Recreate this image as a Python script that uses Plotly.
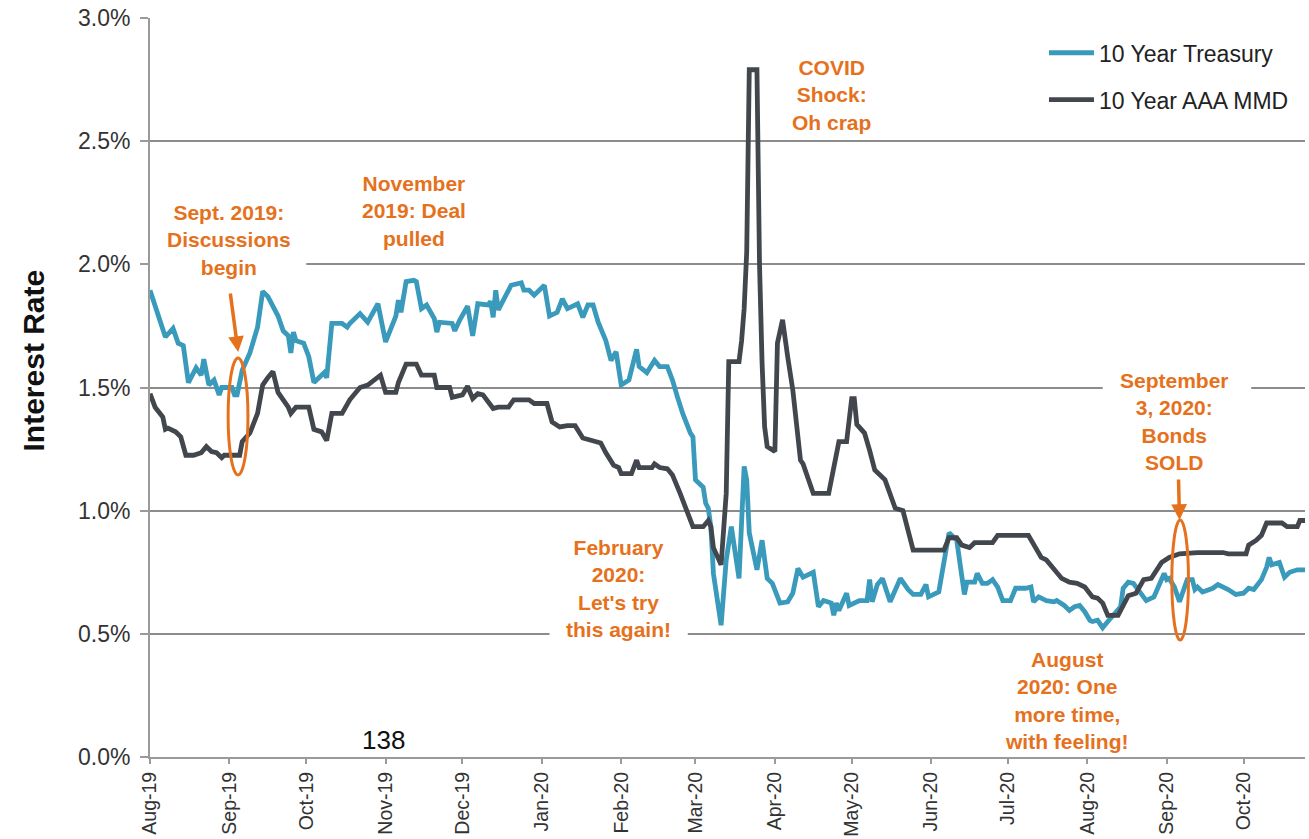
import plotly.graph_objects as go

# 10 Year Treasury yield (%)
treasury_dates = [
    "2019-08-01", "2019-08-04", "2019-08-07", "2019-08-10", "2019-08-12", "2019-08-14",
    "2019-08-16", "2019-08-19", "2019-08-21", "2019-08-22", "2019-08-24", "2019-08-26",
    "2019-08-28", "2019-08-29", "2019-09-02", "2019-09-03", "2019-09-04", "2019-09-06",
    "2019-09-09", "2019-09-12", "2019-09-14", "2019-09-16", "2019-09-18", "2019-09-20",
    "2019-09-22", "2019-09-24", "2019-09-25", "2019-09-26", "2019-09-27", "2019-09-30",
    "2019-10-02", "2019-10-04", "2019-10-08", "2019-10-09", "2019-10-11", "2019-10-15",
    "2019-10-17", "2019-10-18", "2019-10-22", "2019-10-25", "2019-10-29", "2019-11-01",
    "2019-11-05", "2019-11-06", "2019-11-07", "2019-11-09", "2019-11-12", "2019-11-13",
    "2019-11-15", "2019-11-17", "2019-11-20", "2019-11-21", "2019-11-22", "2019-11-27",
    "2019-11-28", "2019-11-30", "2019-12-03", "2019-12-05", "2019-12-07", "2019-12-11",
    "2019-12-12", "2019-12-13", "2019-12-14", "2019-12-15", "2019-12-17", "2019-12-20",
    "2019-12-24", "2019-12-25", "2019-12-27", "2019-12-29", "2020-01-02", "2020-01-04",
    "2020-01-07", "2020-01-09", "2020-01-11", "2020-01-15", "2020-01-17", "2020-01-19",
    "2020-01-21", "2020-01-23", "2020-01-26", "2020-01-28", "2020-01-30", "2020-02-01",
    "2020-02-04", "2020-02-07", "2020-02-08", "2020-02-11", "2020-02-14", "2020-02-16",
    "2020-02-19", "2020-02-21", "2020-02-23", "2020-02-25", "2020-02-28", "2020-02-29",
    "2020-03-01", "2020-03-04", "2020-03-05", "2020-03-06", "2020-03-07", "2020-03-08",
    "2020-03-11", "2020-03-13", "2020-03-15", "2020-03-17", "2020-03-18", "2020-03-20",
    "2020-03-21", "2020-03-22", "2020-03-25", "2020-03-27", "2020-03-29", "2020-03-31",
    "2020-04-03", "2020-04-06", "2020-04-08", "2020-04-10", "2020-04-12", "2020-04-16",
    "2020-04-18", "2020-04-20", "2020-04-23", "2020-04-24", "2020-04-25", "2020-04-26",
    "2020-04-29", "2020-04-30", "2020-05-04", "2020-05-07", "2020-05-08", "2020-05-09",
    "2020-05-11", "2020-05-13", "2020-05-16", "2020-05-20", "2020-05-23", "2020-05-25",
    "2020-05-28", "2020-05-30", "2020-05-31", "2020-06-04", "2020-06-06", "2020-06-08",
    "2020-06-11", "2020-06-14", "2020-06-15", "2020-06-18", "2020-06-19", "2020-06-21",
    "2020-06-23", "2020-06-25", "2020-06-27", "2020-06-29", "2020-07-02", "2020-07-04",
    "2020-07-08", "2020-07-10", "2020-07-11", "2020-07-13", "2020-07-16", "2020-07-19",
    "2020-07-20", "2020-07-23", "2020-07-25", "2020-07-27", "2020-07-29", "2020-07-31",
    "2020-08-02", "2020-08-03", "2020-08-05", "2020-08-07", "2020-08-09", "2020-08-11",
    "2020-08-14", "2020-08-15", "2020-08-17", "2020-08-19", "2020-08-22", "2020-08-24",
    "2020-08-27", "2020-08-29", "2020-08-31", "2020-09-01", "2020-09-02", "2020-09-04",
    "2020-09-06", "2020-09-08", "2020-09-09", "2020-09-11", "2020-09-12", "2020-09-13",
    "2020-09-15", "2020-09-19", "2020-09-21", "2020-09-25", "2020-09-28", "2020-10-01",
    "2020-10-03", "2020-10-05", "2020-10-08", "2020-10-10", "2020-10-11", "2020-10-12",
    "2020-10-14", "2020-10-15", "2020-10-17", "2020-10-19", "2020-10-22", "2020-10-25",
]
treasury_values = [
    1.895, 1.80, 1.705, 1.74, 1.68, 1.67,
    1.52, 1.58, 1.55, 1.615, 1.51, 1.53,
    1.47, 1.50, 1.50, 1.47, 1.47, 1.57,
    1.64, 1.745, 1.89, 1.87, 1.83, 1.79,
    1.73, 1.71, 1.64, 1.725, 1.69, 1.68,
    1.625, 1.52, 1.56, 1.54, 1.76, 1.76,
    1.745, 1.76, 1.80, 1.765, 1.84, 1.685,
    1.79, 1.855, 1.805, 1.93, 1.935, 1.93,
    1.82, 1.835, 1.78, 1.725, 1.765, 1.76,
    1.73, 1.775, 1.83, 1.71, 1.84, 1.835,
    1.85, 1.785, 1.895, 1.815, 1.855, 1.915,
    1.925, 1.895, 1.895, 1.875, 1.915, 1.79,
    1.805, 1.86, 1.82, 1.84, 1.785, 1.835,
    1.835, 1.765, 1.69, 1.61, 1.645, 1.51,
    1.53, 1.655, 1.585, 1.56, 1.61, 1.585,
    1.585, 1.53, 1.46, 1.395, 1.315, 1.30,
    1.125, 1.095, 1.03, 1.01, 0.935, 0.745,
    0.535, 0.80, 0.935, 0.80, 0.725, 1.18,
    1.125, 0.91, 0.76, 0.88, 0.725, 0.705,
    0.625, 0.63, 0.665, 0.765, 0.73, 0.75,
    0.61, 0.635, 0.625, 0.575, 0.625, 0.595,
    0.665, 0.615, 0.635, 0.635, 0.72, 0.63,
    0.70, 0.725, 0.63, 0.725, 0.68, 0.66,
    0.66, 0.70, 0.65, 0.67, 0.80, 0.91,
    0.88, 0.66, 0.71, 0.71, 0.745, 0.705,
    0.705, 0.72, 0.69, 0.635, 0.635, 0.685,
    0.685, 0.69, 0.63, 0.65, 0.635, 0.63,
    0.635, 0.615, 0.595, 0.61, 0.615, 0.59,
    0.555, 0.55, 0.555, 0.525, 0.55, 0.575,
    0.61, 0.685, 0.71, 0.705, 0.665, 0.635,
    0.65, 0.70, 0.745, 0.72, 0.725, 0.69,
    0.63, 0.69, 0.72, 0.72, 0.68, 0.69,
    0.67, 0.685, 0.70, 0.68, 0.66, 0.665,
    0.685, 0.68, 0.72, 0.77, 0.81, 0.78,
    0.79, 0.79, 0.73, 0.75, 0.76, 0.76,
]

# 10 Year AAA MMD yield (%)
mmd_dates = [
    "2019-08-01", "2019-08-03", "2019-08-06", "2019-08-07", "2019-08-08", "2019-08-11",
    "2019-08-13", "2019-08-15", "2019-08-18", "2019-08-21", "2019-08-23", "2019-08-25",
    "2019-08-27", "2019-08-29", "2019-08-30", "2019-09-05", "2019-09-06", "2019-09-09",
    "2019-09-12", "2019-09-14", "2019-09-16", "2019-09-18", "2019-09-20", "2019-09-22",
    "2019-09-24", "2019-09-25", "2019-09-27", "2019-10-02", "2019-10-04", "2019-10-07",
    "2019-10-09", "2019-10-11", "2019-10-15", "2019-10-18", "2019-10-22", "2019-10-25",
    "2019-10-30", "2019-11-01", "2019-11-05", "2019-11-06", "2019-11-09", "2019-11-13",
    "2019-11-15", "2019-11-20", "2019-11-21", "2019-11-26", "2019-11-27", "2019-12-01",
    "2019-12-03", "2019-12-05", "2019-12-07", "2019-12-09", "2019-12-13", "2019-12-15",
    "2019-12-19", "2019-12-21", "2019-12-27", "2019-12-29", "2020-01-03", "2020-01-05",
    "2020-01-08", "2020-01-11", "2020-01-14", "2020-01-17", "2020-01-21", "2020-01-24",
    "2020-01-26", "2020-01-29", "2020-01-31", "2020-02-01", "2020-02-05", "2020-02-07",
    "2020-02-08", "2020-02-13", "2020-02-14", "2020-02-16", "2020-02-19", "2020-02-21",
    "2020-02-24", "2020-02-27", "2020-02-29", "2020-03-04", "2020-03-06", "2020-03-07",
    "2020-03-08", "2020-03-11", "2020-03-13", "2020-03-14", "2020-03-18", "2020-03-19",
    "2020-03-20", "2020-03-21", "2020-03-22", "2020-03-25", "2020-03-26", "2020-03-27",
    "2020-03-28", "2020-03-29", "2020-04-01", "2020-04-02", "2020-04-04", "2020-04-06",
    "2020-04-08", "2020-04-11", "2020-04-12", "2020-04-16", "2020-04-22", "2020-04-26",
    "2020-04-29", "2020-05-01", "2020-05-02", "2020-05-03", "2020-05-06", "2020-05-08",
    "2020-05-10", "2020-05-14", "2020-05-18", "2020-05-21", "2020-05-25", "2020-06-06",
    "2020-06-08", "2020-06-11", "2020-06-13", "2020-06-16", "2020-06-18", "2020-06-25",
    "2020-06-27", "2020-07-09", "2020-07-12", "2020-07-14", "2020-07-16", "2020-07-20",
    "2020-07-22", "2020-07-25", "2020-07-28", "2020-07-31", "2020-08-03", "2020-08-05",
    "2020-08-07", "2020-08-09", "2020-08-13", "2020-08-17", "2020-08-20", "2020-08-23",
    "2020-08-26", "2020-08-30", "2020-09-02", "2020-09-06", "2020-09-13", "2020-09-23",
    "2020-09-25", "2020-10-02", "2020-10-03", "2020-10-06", "2020-10-08", "2020-10-10",
    "2020-10-16", "2020-10-18", "2020-10-22", "2020-10-23", "2020-10-25",
]
mmd_values = [
    1.475, 1.42, 1.38, 1.33, 1.335, 1.32,
    1.30, 1.225, 1.225, 1.235, 1.26, 1.24,
    1.235, 1.215, 1.225, 1.225, 1.28, 1.315,
    1.395, 1.51, 1.54, 1.565, 1.48, 1.45,
    1.42, 1.395, 1.42, 1.42, 1.33, 1.32,
    1.285, 1.395, 1.395, 1.45, 1.50, 1.51,
    1.55, 1.48, 1.48, 1.52, 1.595, 1.595,
    1.55, 1.55, 1.50, 1.50, 1.46, 1.47,
    1.505, 1.455, 1.475, 1.47, 1.415, 1.42,
    1.42, 1.45, 1.45, 1.435, 1.435, 1.36,
    1.34, 1.345, 1.345, 1.295, 1.285, 1.275,
    1.235, 1.185, 1.175, 1.15, 1.15, 1.205,
    1.175, 1.175, 1.19, 1.175, 1.17, 1.145,
    1.07, 0.995, 0.935, 0.935, 0.96, 0.935,
    0.85, 0.78, 1.07, 1.605, 1.605, 1.69,
    1.82, 2.05, 2.79, 2.79, 2.0, 1.6,
    1.34, 1.26, 1.24, 1.68, 1.775, 1.625,
    1.49, 1.205, 1.19, 1.07, 1.07, 1.28,
    1.28, 1.455, 1.455, 1.35, 1.315, 1.245,
    1.165, 1.125, 1.01, 1.00, 0.84, 0.84,
    0.89, 0.89, 0.86, 0.85, 0.87, 0.87,
    0.90, 0.90, 0.84, 0.81, 0.80, 0.745,
    0.725, 0.71, 0.705, 0.69, 0.65, 0.645,
    0.625, 0.575, 0.575, 0.655, 0.665, 0.72,
    0.725, 0.79, 0.81, 0.825, 0.83, 0.83,
    0.825, 0.825, 0.86, 0.88, 0.90, 0.95,
    0.95, 0.935, 0.935, 0.96, 0.96,
]

series_names = ["10 Year Treasury", "10 Year AAA MMD"]
series_colors = ["#3a9abb", "#42474e"]

ORANGE = "#e6711c"
FONT = "Liberation Sans, Arial, sans-serif"

fig = go.Figure()
fig.add_trace(go.Scatter(
    x=treasury_dates, y=treasury_values, mode="lines", name=series_names[0],
    line=dict(color=series_colors[0], width=4.8), legendgroup="t",
))
fig.add_trace(go.Scatter(
    x=mmd_dates, y=mmd_values, mode="lines", name=series_names[1],
    line=dict(color=series_colors[1], width=4.8), legendgroup="m",
))

# White patches that break the gridlines behind the callout texts
gaps = [
    ("2019-08-01", "2019-10-01", 2.0),
    ("2020-01-04", "2020-02-27", 0.5),
    ("2020-08-07", "2020-10-04", 1.5),
]
shapes = []
for x0, x1, yv in gaps:
    shapes.append(dict(type="rect", xref="x", yref="y", x0=x0, x1=x1,
                       y0=yv - 0.03, y1=yv + 0.03, layer="between",
                       fillcolor="white", line=dict(width=0)))

# Ellipses around the two key dates
shapes.append(dict(type="circle", xref="x", yref="y",
                   x0="2019-08-31 12:00", x1="2019-09-08 06:00", y0=1.145, y1=1.62,
                   line=dict(color=ORANGE, width=3)))
shapes.append(dict(type="circle", xref="x", yref="y",
                   x0="2020-09-03", x1="2020-09-09 12:00", y0=0.475, y1=0.962,
                   line=dict(color=ORANGE, width=3)))

callouts = [
    ("2019-09-01", 2.10, "Sept. 2019:<br>Discussions<br>begin"),
    ("2019-11-12", 2.216, "November<br>2019: Deal<br>pulled"),
    ("2020-04-23", 2.687, "COVID<br>Shock:<br>Oh crap"),
    ("2020-01-31", 0.686, "February<br>2020:<br>Let's try<br>this again!"),
    ("2020-09-04", 1.364, "September<br>3, 2020:<br>Bonds<br>SOLD"),
    ("2020-07-24", 0.231, "August<br>2020: One<br>more time,<br>with feeling!"),
]
annotations = []
for xd, yv, txt in callouts:
    annotations.append(dict(
        x=xd, y=yv, xref="x", yref="y", text=txt, showarrow=False,
        xanchor="center", yanchor="middle", align="center",
        font=dict(family=FONT, size=21, color=ORANGE, weight="bold"),
    ))

# Arrows pointing at the ellipses
annotations.append(dict(
    x="2019-09-04 10:00", y=1.644, xref="x", yref="y", text="", showarrow=True,
    ax=-8, ay=-60, arrowhead=2, arrowsize=0.9, arrowwidth=3.5, arrowcolor=ORANGE,
))
annotations.append(dict(
    x="2020-09-06", y=0.962, xref="x", yref="y", text="", showarrow=True,
    ax=-1, ay=-42, arrowhead=2, arrowsize=0.9, arrowwidth=3.5, arrowcolor=ORANGE,
))

annotations.append(dict(
    x="2019-10-31", y=0.069, xref="x", yref="y", text="138", showarrow=False,
    xanchor="center", yanchor="middle", font=dict(family=FONT, size=26, color="#111"),
))

annotations.append(dict(
    x=-0.101, y=0.537, xref="paper", yref="paper", text="Interest Rate",
    showarrow=False, textangle=-90, xanchor="center", yanchor="middle",
    font=dict(family=FONT, size=30, color="#111", weight="bold"),
))

fig.update_layout(
    width=1309, height=839,
    margin=dict(l=150, r=4, t=18, b=82),
    paper_bgcolor="white", plot_bgcolor="white",
    font=dict(family=FONT, color="#333"),
    shapes=shapes, annotations=annotations,
    showlegend=True,
    legend=dict(
        x=0.774, y=0.982, xanchor="left", yanchor="top",
        font=dict(family=FONT, size=23, color="#222"),
        bgcolor="rgba(0,0,0,0)", traceorder="grouped", tracegroupgap=14,
        itemwidth=45,
    ),
    xaxis=dict(
        type="date", range=["2019-08-01", "2020-10-25"], automargin=False,
        tick0="2019-08-01", dtick="M1", tickformat="%b-%y", tickangle=-90,
        showgrid=False, showline=True, linecolor="#9a9a9a", linewidth=2,
        ticks="outside", ticklen=5, tickcolor="#9a9a9a", tickwidth=1.5,
        tickfont=dict(family=FONT, size=19.5, color="#333"), zeroline=False,
    ),
    yaxis=dict(
        range=[0, 3.0], dtick=0.5, tickformat=".1f", ticksuffix="%", automargin=False,
        showgrid=True, gridcolor="#8c8c8c", gridwidth=1.5,
        showline=True, linecolor="#9a9a9a", linewidth=2,
        ticks="outside", ticklen=8, tickcolor="#9a9a9a", tickwidth=1.5,
        tickfont=dict(family=FONT, size=23, color="#333"), zeroline=False,
        ticklabelstandoff=5,
    ),
)

fig.write_html("out.html")
